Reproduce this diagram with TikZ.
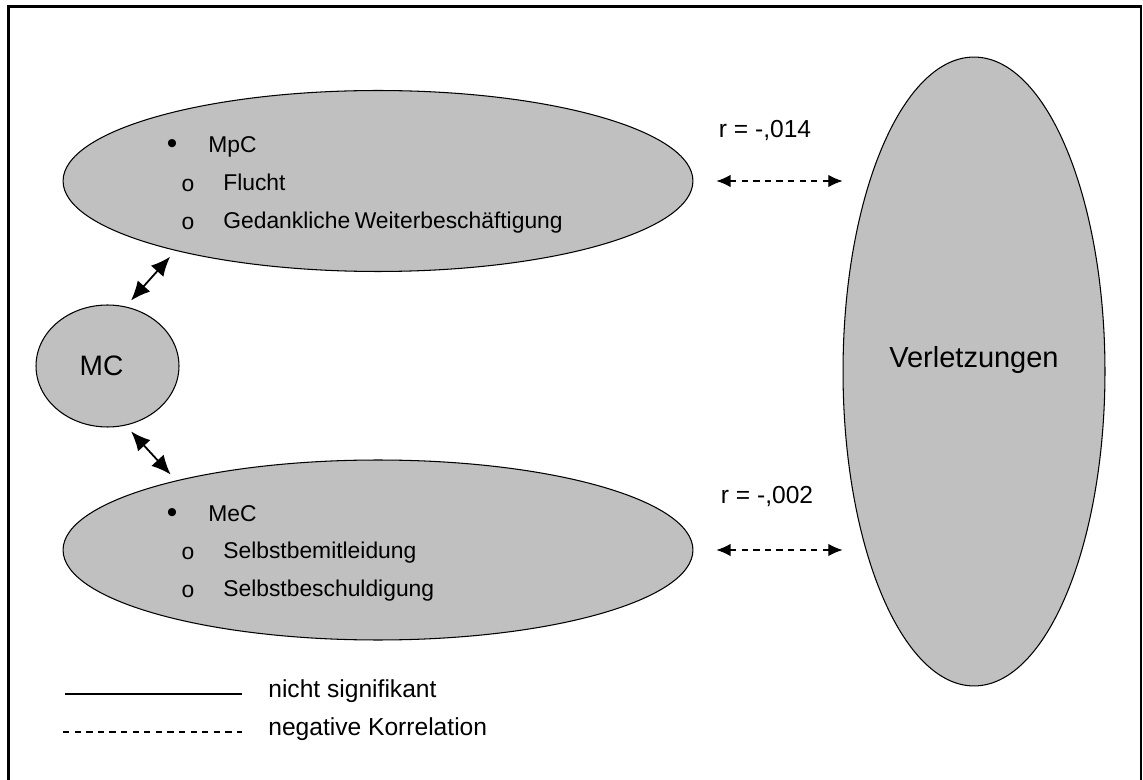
\documentclass[tikz,border=0pt]{standalone}
\usepackage{fontspec}
\setmainfont{Liberation Sans}
\usetikzlibrary{shapes.geometric,arrows.meta}
\definecolor{blobgray}{RGB}{192,192,192}
\tikzset{
  blob/.style={ellipse, draw=black, line width=0.6pt, fill=blobgray, inner sep=0pt},
  listtext/.style={anchor=west, inner sep=0pt, text height=9pt, text depth=2.5pt,
    font=\fontsize{13}{15}\selectfont},
  listmark/.style={inner sep=0pt, font=\fontsize{13}{15}\selectfont},
  keytext/.style={inner sep=0pt, text height=9.5pt, text depth=2.8pt,
    font=\fontsize{14}{16}\selectfont},
  linkarrow/.style={{Latex[length=11pt,width=9.5pt]}-{Latex[length=11pt,width=9.5pt]},
    line width=1pt, shorten <=0.16cm, shorten >=0.16cm},
  corrarrow/.style={{Latex[length=8pt,width=7pt]}-{Latex[length=8pt,width=7pt]},
    line width=0.6pt, dash pattern=on 3.6pt off 3pt},
}
\begin{document}
\begin{tikzpicture}[x=0.02cm, y=-0.02cm]
  \useasboundingbox (0,0) rectangle (1143,780);
  \draw [line width=1.2pt] (8.5,790) -- (8.5,6.5) -- (1141,6.5) -- (1141,790);

  % the four blobs
  \node [blob, minimum width=12.6cm, minimum height=3.62cm] (mpc) at (378,181) {};
  \node [blob, minimum width=12.6cm, minimum height=3.6cm] (mec) at (378,550) {};
  \node [blob, minimum width=2.86cm, minimum height=2.44cm,
         label={[xshift=-0.12cm, font=\fontsize{16}{18}\selectfont]center:MC}] (mc) at (107.5,366) {};
  \node [blob, minimum width=5.24cm, minimum height=12.58cm,
         label={[yshift=0.22cm, font=\fontsize{16.5}{19}\selectfont]center:Verletzungen}] (verl) at (974,371.5) {};

  % lists
  \node [listmark, font=\fontsize{17}{19}\selectfont] (mpcdot) at (172,147) {•};
  \node [listtext] (mpchead) at (208,147) {MpC};
  \node [listmark] (fluchtdot) at (188,185) {o};
  \node [listtext] (flucht) at (223,185) {Flucht};
  \node [listmark] (gedankdot) at (188,223) {o};
  \node [listtext] (gedank) at (223,223) {Gedankliche\hspace{-0.08em} Weiterbeschäftigung};

  \node [listmark, font=\fontsize{17}{19}\selectfont] (mecdot) at (172,516) {•};
  \node [listtext] (mechead) at (208,516) {MeC};
  \node [listmark] (bemitdot) at (188,553) {o};
  \node [listtext] (bemit) at (223,553) {Selbstbemitleidung};
  \node [listmark] (beschdot) at (188,591) {o};
  \node [listtext] (besch) at (223,591) {Selbstbeschuldigung};

  % connectors
  \draw [linkarrow] (mc.73) -- (mpc.199);
  \draw [linkarrow] (mc.-73) -- (mec.161);
  \draw [corrarrow] ([xshift=0.46cm]mpc.east) -- (verl.west |- mpc.east);
  \draw [corrarrow] ([xshift=0.46cm]mec.east) -- (verl.west |- mec.east);
  \node [keytext] (rtop) at (765,132) {r = -,014};
  \node [keytext] (rbot) at (767,498) {r = -,002};

  % key
  \coordinate (solidA) at (65,694);
  \coordinate (solidB) at (242,694);
  \coordinate (dashA) at (63,732);
  \coordinate (dashB) at (242,732);
  \draw [line width=0.8pt] (solidA) -- (solidB);
  \draw [line width=0.8pt, dash pattern=on 3.6pt off 3pt] (dashA) -- (dashB);
  \node [keytext, anchor=west] (solidtext) at (268,692) {nicht signifikant};
  \node [keytext, anchor=west] (dashtext) at (268,730) {negative Korrelation};
\end{tikzpicture}
\end{document}
